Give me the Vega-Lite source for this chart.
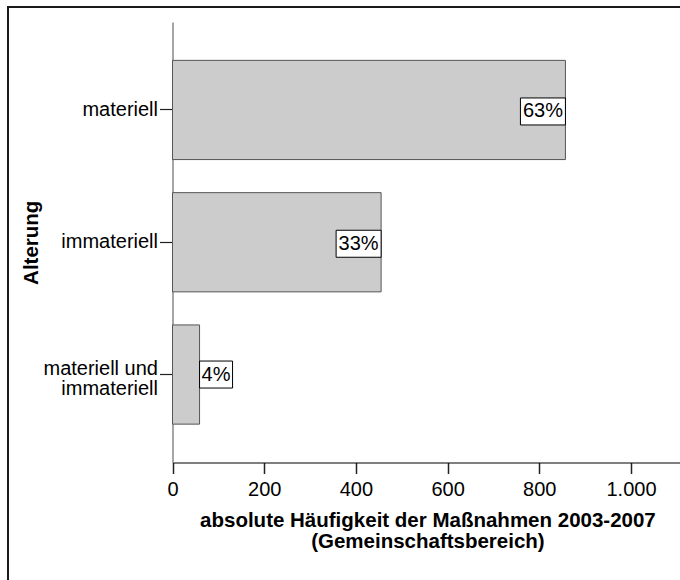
{
  "$schema": "https://vega.github.io/schema/vega-lite/v6.json",
  "autosize": {"type": "none"},
  "padding": {"left": 8, "top": 7, "right": -10, "bottom": -10},
  "width": 682,
  "height": 583,
  "background": "white",
  "config": {
    "font": "Liberation Sans",
    "view": {"stroke": "#1a1a1a", "strokeWidth": 2}
  },
  "data": {
    "values": [
      {"Alterung": "materiell", "n": 857, "pct": "63%"},
      {"Alterung": "immateriell", "n": 455, "pct": "33%"},
      {"Alterung": "materiell und immateriell", "n": 59, "pct": "4%"}
    ]
  },
  "encoding": {
    "x": {
      "field": "n",
      "type": "quantitative",
      "scale": {"domain": [0, 1112], "range": [164.5, 674.35], "nice": false, "zero": true},
      "axis": {
        "orient": "bottom",
        "offset": -127.5,
        "values": [0, 200, 400, 600, 800, 1000],
        "labelExpr": "replace(format(datum.value, ','), ',', '.')",
        "grid": false,
        "domainColor": "black",
        "domainWidth": 1.2,
        "tickColor": "#222",
        "tickWidth": 1.5,
        "tickSize": 11,
        "labelPadding": 6,
        "labelFontSize": 20,
        "labelColor": "black",
        "labelFlush": false,
        "labelOverlap": false,
        "title": ["absolute Häufigkeit der Maßnahmen 2003-2007", "(Gemeinschaftsbereich)"],
        "titleFontSize": 20.5,
        "titleFontWeight": "bold",
        "titleColor": "black",
        "titleLineHeight": 21,
        "titlePadding": 10.5
      }
    },
    "y": {
      "field": "Alterung",
      "type": "nominal",
      "sort": null,
      "scale": {"range": [15, 455.5], "paddingInner": 0.25, "paddingOuter": 0.29},
      "axis": {
        "orient": "left",
        "offset": -164.5,
        "grid": false,
        "domainColor": "#808080",
        "domainWidth": 1.4,
        "tickColor": "#222",
        "tickWidth": 1.2,
        "tickSize": 13,
        "labelPadding": 2,
        "labelFontSize": 20,
        "labelColor": "black",
        "labelLineHeight": 20,
        "labelOffset": {"condition": {"test": "datum.value == 'materiell und immateriell'", "value": -6}, "value": 0},
        "labelExpr": "datum.label == 'materiell und immateriell' ? ['materiell und', 'immateriell'] : datum.label",
        "title": "Alterung",
        "titleFontSize": 20.5,
        "titleFontWeight": "bold",
        "titleColor": "black",
        "titlePadding": 1
      }
    }
  },
  "layer": [
    {
      "mark": {"type": "bar", "fill": "#cccccc", "stroke": "#555555", "strokeWidth": 1}
    },
    {
      "transform": [{"filter": "datum.n > 200"}],
      "mark": {"type": "tick", "orient": "vertical", "size": 27, "thickness": 45, "xOffset": -22.5, "yOffset": 1.5, "fill": "white", "stroke": "black", "strokeWidth": 1, "opacity": 1, "filled": true}
    },
    {
      "transform": [{"filter": "datum.n > 200"}],
      "mark": {"type": "text", "dx": -22.5, "dy": 1.5, "fontSize": 20, "color": "black", "align": "center", "baseline": "middle"},
      "encoding": {"text": {"field": "pct"}}
    },
    {
      "transform": [{"filter": "datum.n <= 200"}],
      "mark": {"type": "tick", "orient": "vertical", "size": 27, "thickness": 33, "xOffset": 16.5, "fill": "white", "stroke": "black", "strokeWidth": 1, "opacity": 1, "filled": true}
    },
    {
      "transform": [{"filter": "datum.n <= 200"}],
      "mark": {"type": "text", "dx": 16.5, "fontSize": 20, "color": "black", "align": "center", "baseline": "middle"},
      "encoding": {"text": {"field": "pct"}}
    }
  ]
}
